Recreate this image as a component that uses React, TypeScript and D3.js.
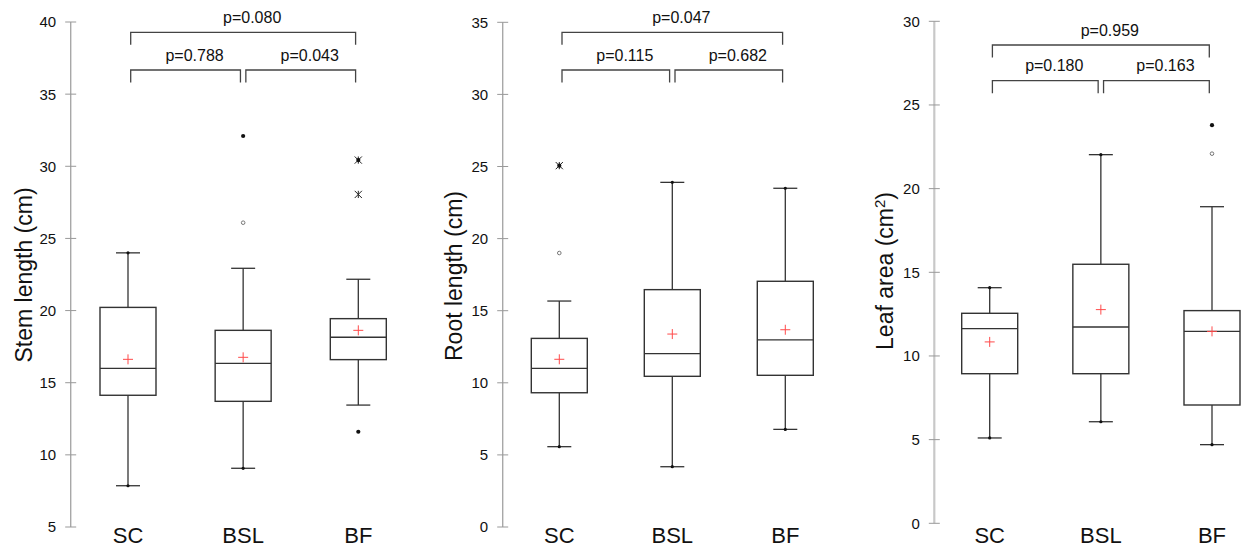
import React from "react";
import * as d3 from "d3";

const categories = ["SC", "BSL", "BF"];

// Each box: [lowWhisker, q1, median, q3, highWhisker, mean]
const stemBoxes = [
  [7.86, 14.13, 16.0, 20.22, 24.0, 16.62],
  [9.07, 13.71, 16.34, 18.63, 22.93, 16.76],
  [13.45, 16.6, 18.15, 19.44, 22.17, 18.63],
];
const stemMinMax = [[7.86, 24.0], [9.07, 32.1], [11.6, 30.43]];
const stemMild = [[], [26.09], []];
const stemExtreme = [[], [], [30.43, 28.05]];
const stemP = ["p=0.788", "p=0.043", "p=0.080"];
const stemTicks = [5, 10, 15, 20, 25, 30, 35, 40];

const rootBoxes = [
  [5.57, 9.31, 11.0, 13.08, 15.67, 11.63],
  [4.18, 10.45, 12.02, 16.46, 23.9, 13.38],
  [6.77, 10.52, 12.97, 17.04, 23.49, 13.68],
];
const rootMinMax = [[5.57, 25.06], [4.18, 23.9], [6.77, 23.49]];
const rootMild = [[19.0], [], []];
const rootExtreme = [[25.06], [], []];
const rootP = ["p=0.115", "p=0.682", "p=0.047"];
const rootTicks = [0, 5, 10, 15, 20, 25, 30, 35];

const leafBoxes = [
  [5.1, 8.94, 11.63, 12.55, 14.08, 10.84],
  [6.07, 8.94, 11.73, 15.48, 22.03, 12.77],
  [4.7, 7.07, 11.47, 12.71, 18.92, 11.47],
];
const leafMinMax = [[5.1, 14.08], [6.07, 22.03], [4.7, 23.79]];
const leafMild = [[], [], [22.09]];
const leafExtreme = [[], [], []];
const leafP = ["p=0.180", "p=0.163", "p=0.959"];
const leafTicks = [0, 5, 10, 15, 20, 25, 30];

const pairs = [[0, 1], [1, 2], [0, 2]];

const FONT = "'Liberation Sans', Arial, Helvetica, sans-serif";

type Layout = {
  axisX: number;
  yRange: [number, number];
  xRange: [number, number];
  titleX: number;
  titleY: number;
  bracketTop: number;
  bracketLow: number;
  axisColor: string;
  axisWidth: number;
};

const panels = [
  {
    title: "Stem length (cm)",
    sup: "",
    domain: [5, 40],
    ticks: stemTicks,
    boxes: stemBoxes,
    minmax: stemMinMax,
    mild: stemMild,
    extreme: stemExtreme,
    p: stemP,
    layout: {
      axisX: 70.7, yRange: [527, 22], xRange: [128, 358.3], titleX: 31.5, titleY: 275,
      bracketTop: 32.3, bracketLow: 70, axisColor: "#a8a8a8", axisWidth: 1.4,
    } as Layout,
  },
  {
    title: "Root length (cm)",
    sup: "",
    domain: [0, 35],
    ticks: rootTicks,
    boxes: rootBoxes,
    minmax: rootMinMax,
    mild: rootMild,
    extreme: rootExtreme,
    p: rootP,
    layout: {
      axisX: 502.7, yRange: [527, 22.3], xRange: [559.3, 785.3], titleX: 461.5, titleY: 276,
      bracketTop: 32.3, bracketLow: 70, axisColor: "#a8a8a8", axisWidth: 1.4,
    } as Layout,
  },
  {
    title: "Leaf area (cm",
    sup: "2",
    domain: [0, 30],
    ticks: leafTicks,
    boxes: leafBoxes,
    minmax: leafMinMax,
    mild: leafMild,
    extreme: leafExtreme,
    p: leafP,
    layout: {
      axisX: 934.3, yRange: [523.3, 21.3], xRange: [989.7, 1212], titleX: 893, titleY: 271,
      bracketTop: 45, bracketLow: 80.7, axisColor: "#c8c8c8", axisWidth: 2.2,
    } as Layout,
  },
];

const BOX_W = 56;
const CAP_W = 24;
const STROKE = "#333";

function Asterisk({ x, y }: { x: number; y: number }) {
  const r = 3.6;
  return (
    <g stroke="#222" strokeWidth={1}>
      <line x1={x} y1={y - r} x2={x} y2={y + r} />
      <line x1={x - r} y1={y - r} x2={x + r} y2={y + r} />
      <line x1={x - r} y1={y + r} x2={x + r} y2={y - r} />
    </g>
  );
}

function Panel({ panel }: { panel: (typeof panels)[number] }) {
  const L = panel.layout;
  const y = d3.scaleLinear().domain(panel.domain).range(L.yRange);
  const x = d3.scalePoint<string>().domain(categories).range(L.xRange);
  const off = 2.7;
  const leg = 12.5;
  return (
    <g>
      <line x1={L.axisX} x2={L.axisX} y1={y(panel.domain[0])} y2={y(panel.domain[1])}
        stroke={L.axisColor} strokeWidth={L.axisWidth} />
      {panel.ticks.map((t) => (
        <g key={t}>
          <line x1={L.axisX - 5.5} x2={L.axisX + 5.5} y1={y(t)} y2={y(t)} stroke="#999" strokeWidth={1} />
          <text x={L.axisX - 14.5} y={y(t)} dy="0.36em" textAnchor="end" fontSize={15} fill="#111" fontFamily={FONT}>
            {t}
          </text>
        </g>
      ))}
      <text transform={`translate(${L.titleX},${L.titleY}) rotate(-90)`} textAnchor="middle" fontSize={23}
        fill="#111" fontFamily={FONT}>
        {panel.title}
        {panel.sup ? (
          <>
            <tspan fontSize={15} dy={-8}>{panel.sup}</tspan>
            <tspan dy={8}>)</tspan>
          </>
        ) : null}
      </text>
      {categories.map((c, i) => {
        const cx = x(c)!;
        const [lo, q1, med, q3, hi, mean] = panel.boxes[i];
        return (
          <g key={c}>
            <line x1={cx} x2={cx} y1={y(hi)} y2={y(q3)} stroke={STROKE} strokeWidth={1.3} />
            <line x1={cx} x2={cx} y1={y(q1)} y2={y(lo)} stroke={STROKE} strokeWidth={1.3} />
            <line x1={cx - CAP_W / 2} x2={cx + CAP_W / 2} y1={y(hi)} y2={y(hi)} stroke={STROKE} strokeWidth={1.3} />
            <line x1={cx - CAP_W / 2} x2={cx + CAP_W / 2} y1={y(lo)} y2={y(lo)} stroke={STROKE} strokeWidth={1.3} />
            <rect x={cx - BOX_W / 2} y={y(q3)} width={BOX_W} height={y(q1) - y(q3)} fill="none"
              stroke={STROKE} strokeWidth={1.4} />
            <line x1={cx - BOX_W / 2} x2={cx + BOX_W / 2} y1={y(med)} y2={y(med)} stroke={STROKE} strokeWidth={1.3} />
            <g stroke="#ff4a4a" strokeWidth={1}>
              <line x1={cx - 5} x2={cx + 5} y1={y(mean)} y2={y(mean)} />
              <line x1={cx} x2={cx} y1={y(mean) - 5} y2={y(mean) + 5} />
            </g>
            {panel.mild[i].map((v, k) => (
              <circle key={"m" + k} cx={cx} cy={y(v)} r={1.8} fill="#fff" stroke="#777" strokeWidth={1} />
            ))}
            {panel.extreme[i].map((v, k) => (
              <Asterisk key={"e" + k} x={cx} y={y(v)} />
            ))}
            {panel.minmax[i].map((v, k) => {
              const onWhisker = v === lo || v === hi;
              return <circle key={"d" + k} cx={cx} cy={y(v)} r={onWhisker ? 1.6 : 2.1} fill="#111" />;
            })}
            <text x={cx} y={543} textAnchor="middle" fontSize={22} fill="#111" fontFamily={FONT}>
              {c}
            </text>
          </g>
        );
      })}
      {pairs.map(([a, b], k) => {
        const by = k === 2 ? L.bracketTop : L.bracketLow;
        const x1 = x(categories[a])! + off;
        const x2 = x(categories[b])! - off;
        return (
          <g key={k}>
            <path d={`M${x1},${by + leg}V${by}H${x2}V${by + leg}`} fill="none" stroke="#444" strokeWidth={1.3} />
            <text x={(x1 + x2) / 2 + 9} y={by - 9.5} textAnchor="middle" fontSize={16} fill="#111" fontFamily={FONT}>
              {panel.p[k]}
            </text>
          </g>
        );
      })}
    </g>
  );
}

export default function App() {
  return (
    <div style={{ position: "absolute", left: 0, top: 0, width: 1244, height: 549, background: "#fff" }}>
      <svg width={1244} height={549} style={{ display: "block" }}>
        <rect width={1244} height={549} fill="#fff" />
        {panels.map((p, i) => (
          <Panel key={i} panel={p} />
        ))}
      </svg>
    </div>
  );
}
